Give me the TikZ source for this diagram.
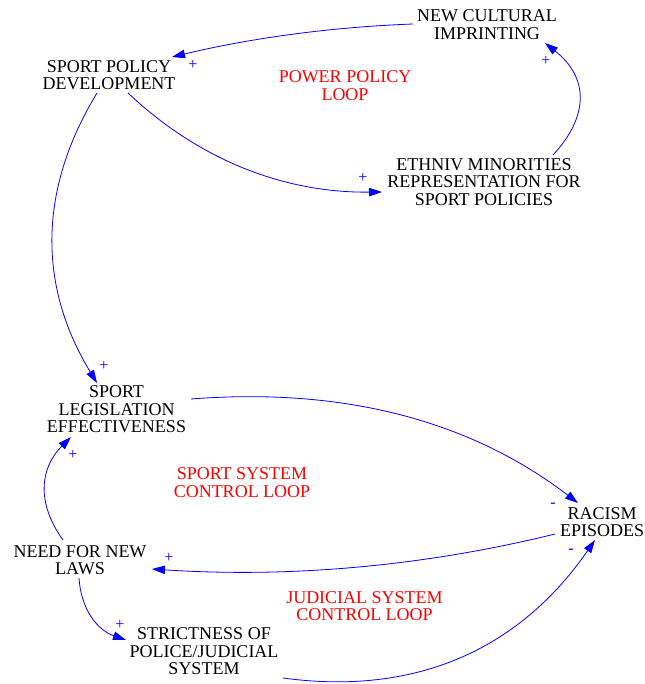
\documentclass[tikz,border=0pt]{standalone}
\usepackage{fontspec}
\setmainfont{Liberation Serif}
\usetikzlibrary{arrows.meta}
\definecolor{linkblue}{RGB}{0,0,255}
\definecolor{looped}{RGB}{255,0,0}
\tikzset{
  var/.style={align=center, inner sep=0pt, font=\fontsize{18}{17.5}\selectfont, text=black},
  looplabel/.style={align=center, inner sep=0pt, font=\fontsize{18}{17.5}\selectfont, text=looped},
  polarity/.style={inner sep=0pt, font=\fontsize{16}{16}\selectfont, text=linkblue},
  link/.style={draw=linkblue, line width=0.8pt, -{Triangle[length=13pt,width=8.5pt]}}
}
\begin{document}
\begin{tikzpicture}[x=1pt,y=-1pt]
\useasboundingbox[fill=white] (0,0) rectangle (644,684);
% variables
\node[var] (nci) at (487,24.5) {NEW CULTURAL\\IMPRINTING};
\node[var] (spd) at (109,75) {SPORT POLICY\\DEVELOPMENT};
\node[var] (emr) at (484,182) {ETHNIV MINORITIES\\REPRESENTATION FOR\\SPORT POLICIES};
\node[var] (sle) at (116.5,409.5) {SPORT\\LEGISLATION\\EFFECTIVENESS};
\node[var] (rep) at (602,522) {RACISM\\EPISODES};
\node[var] (nfl) at (80,560) {NEED FOR NEW\\LAWS};
\node[var] (spj) at (204,651.5) {STRICTNESS OF\\POLICE/JUDICIAL\\SYSTEM};
% loop labels
\node[looplabel] (ppl) at (345,85.5) {POWER POLICY\\LOOP};
\node[looplabel] (ssl) at (242,482.5) {SPORT SYSTEM\\CONTROL LOOP};
\node[looplabel] (jsl) at (364.5,606) {JUDICIAL SYSTEM\\CONTROL LOOP};
% links
\draw[link] ([shift={(-74,-0.5)}]nci.center) .. controls +(-81,3) and +(79,-19) .. ([shift={(63,-18)}]spd.center);
\draw[link] ([shift={(19,18)}]spd.center) .. controls +(71,67) and +(-98,1) .. ([shift={(-102,10)}]emr.center);
\draw[link] ([shift={(69,-27)}]emr.center) .. controls +(37,-40) and +(43,34) .. ([shift={(58,18.5)}]nci.center);
\draw[link] ([shift={(-12,18)}]spd.center) .. controls +(-59,97) and +(-59,-97) .. ([shift={(-19.5,-26.5)}]sle.center);
\draw[link] ([shift={(74.5,-10.5)}]sle.center) .. controls +(141,-11) and +(-115,-88) .. ([shift={(-24,-19)}]rep.center);
\draw[link] ([shift={(-47,12)}]rep.center) .. controls +(-132.5,32.6) and +(136,9) .. ([shift={(72,9)}]nfl.center);
\draw[link] ([shift={(-17,-20)}]nfl.center) .. controls +(-26,-36) and +(-32,32) .. ([shift={(-45.5,27.5)}]sle.center);
\draw[link] ([shift={(-1,18)}]nfl.center) .. controls +(2,31) and +(-29,-10) .. ([shift={(-78,-11.5)}]spj.center);
\draw[link] ([shift={(79,26.5)}]spj.center) .. controls +(132,18) and +(-76,110) .. ([shift={(-7,18)}]rep.center);
% polarities
\node[polarity] (p1) at (193,65) {+};
\node[polarity] (p2) at (363,178) {+};
\node[polarity] (p3) at (546,61) {+};
\node[polarity] (p4) at (104,366) {+};
\node[polarity] (p5) at (553,505) {-};
\node[polarity] (p6) at (169,558) {+};
\node[polarity] (p7) at (73,455) {+};
\node[polarity] (p8) at (120,625) {+};
\node[polarity] (p9) at (571,551) {-};
\end{tikzpicture}
\end{document}
